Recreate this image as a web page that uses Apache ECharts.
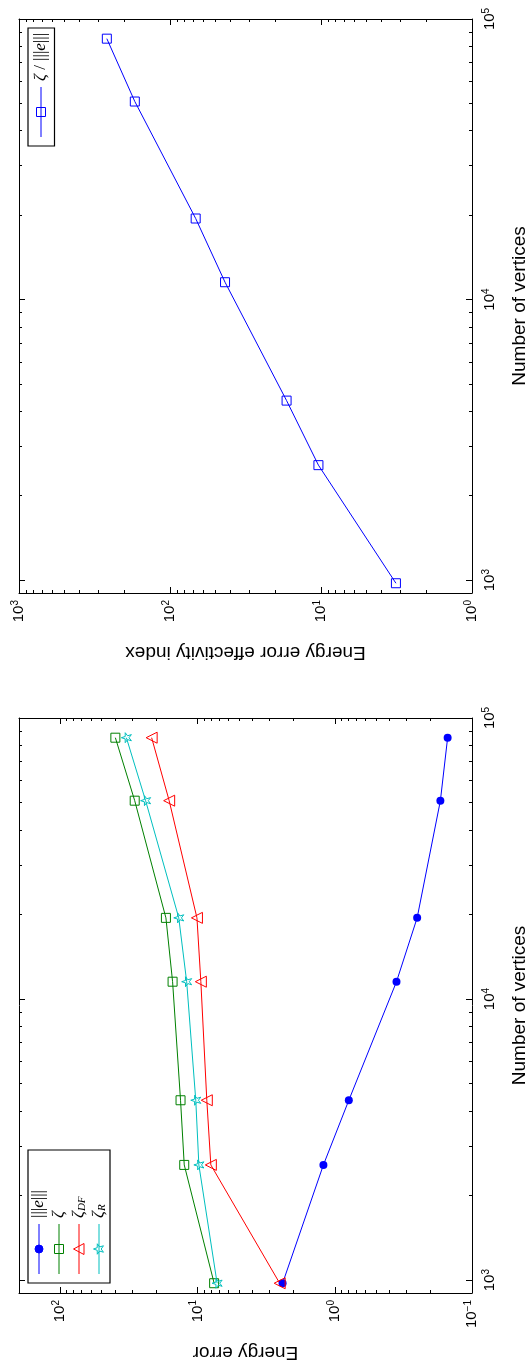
<!DOCTYPE html>
<html><head><meta charset="utf-8">
<script src="https://cdn.jsdelivr.net/npm/echarts@6/dist/echarts.min.js"></script>
<style>html,body{margin:0;padding:0;background:#fff}#c{width:529px;height:1371px}</style>
</head><body><div id="c"></div>
<script>
// ---- data ----
const vertices = [975, 2570, 4365, 11530, 19450, 50800, 85100];
const energyErrorNorm = [2.40, 1.21, 0.79, 0.355, 0.251, 0.170, 0.1505];
const zeta = [7.57, 12.5, 13.3, 15.2, 17.0, 28.7, 39.7];
const zetaDF = [2.52, 8.0, 8.56, 9.46, 10.1, 16.1, 21.6];
const zetaR = [7.20, 9.78, 10.3, 12.0, 13.7, 23.9, 33.0];
const effectivityIndex = [3.19, 10.4, 16.9, 43.2, 67.6, 171, 262];

const vertexRange = [900, 100000];
const effRange = [1, 1000];
const errRange = [0.1, 200];
const vertexTickExps = [3, 4, 5];
const effTickExps = [0, 1, 2, 3];
const errTickExps = [-1, 0, 1, 2];

const xName0 = 'Energy error effectivity index';
const xName1 = 'Energy error';
const yName = 'Number of vertices';

// ---- helpers ----
const L = Math.log10;
const FONT = 'Liberation Sans';
const SERIF = 'Liberation Serif';
function minorTicks(range) {
  const out = [];
  const lo = L(range[0]), hi = L(range[1]);
  for (let d = Math.floor(lo) - 1; d <= Math.ceil(hi); d++) {
    for (let k = 2; k <= 9; k++) {
      const v = L(k) + d;
      if (v > lo + 1e-6 && v < hi - 1e-6) out.push(v);
    }
  }
  return out;
}
function labelFmt(v) {
  const e = Math.round(v);
  return '{a|10}{b|' + (e < 0 ? '\u2212' + (-e) : e) + '}';
}
const labelRich = {
  a: { fontFamily: FONT, fontSize: 15, lineHeight: 18, color: '#000' },
  b: { fontFamily: FONT, fontSize: 10, lineHeight: 6, verticalAlign: 'top', color: '#000' }
};
const nameStyle = { fontFamily: FONT, fontSize: 19, color: '#000' };

function axisGroup(g, range, majorsExp, inverse, mainPos, otherPos, extra, labelExtra) {
  const lo = L(range[0]), hi = L(range[1]);
  const majors = majorsExp.slice();
  const minors = minorTicks(range);
  const base = { type: 'value', gridIndex: g, min: lo, max: hi, inverse: inverse, splitLine: { show: false } };
  const line = { show: true, onZero: false, lineStyle: { color: '#000', width: 1 } };
  const noLine = { show: false, onZero: false };
  const tk = (vals, len) => ({ show: true, inside: true, length: len, customValues: vals, lineStyle: { color: '#000', width: 1 } });
  return [
    Object.assign({}, base, {
      position: mainPos, axisLine: line, axisTick: tk(majors, 6),
      axisLabel: Object.assign({ show: true, customValues: majors, rotate: 90, formatter: labelFmt, rich: labelRich }, labelExtra)
    }, extra),
    Object.assign({}, base, { position: mainPos, axisLine: noLine, axisTick: tk(minors, 3), axisLabel: { show: false } }),
    Object.assign({}, base, { position: otherPos, axisLine: line, axisTick: tk(majors, 6), axisLabel: { show: false } }),
    Object.assign({}, base, { position: otherPos, axisLine: noLine, axisTick: tk(minors, 3), axisLabel: { show: false } })
  ];
}

const xAxes = [].concat(
  axisGroup(0, effRange, effTickExps, true, 'bottom', 'top',
    { name: xName0, nameLocation: 'middle', nameRotate: 180, nameGap: 50, nameTextStyle: nameStyle }, { margin: 7 }),
  axisGroup(1, errRange, errTickExps, true, 'bottom', 'top',
    { name: xName1, nameLocation: 'middle', nameRotate: 180, nameGap: 50, nameTextStyle: nameStyle }, { margin: 7 })
);
const yAxes = [].concat(
  axisGroup(0, vertexRange, vertexTickExps, false, 'right', 'left',
    { name: yName, nameLocation: 'middle', nameRotate: 90, nameGap: 38, nameTextStyle: nameStyle }, { margin: 9 }),
  axisGroup(1, vertexRange, vertexTickExps, false, 'right', 'left',
    { name: yName, nameLocation: 'middle', nameRotate: 90, nameGap: 38, nameTextStyle: nameStyle }, { margin: 9 })
);

const starPath = 'path://M0,-1L0.2245,-0.309L0.951,-0.309L0.363,0.118L0.588,0.809L0,0.382L-0.588,0.809L-0.363,0.118L-0.951,-0.309L-0.2245,-0.309Z';
const COL = { blue: '#0000ff', green: '#008000', red: '#ff0000', cyan: '#00bfbf' };

function mkSeries(name, values, xi, yi, color, symbol, size, rot, filled) {
  return {
    name: name, type: 'line', xAxisIndex: xi, yAxisIndex: yi,
    data: values.map((v, i) => [L(v), L(vertices[i])]),
    symbol: symbol, symbolSize: size, symbolRotate: rot || 0, showSymbol: true, showAllSymbol: true,
    lineStyle: { color: color, width: 1 },
    itemStyle: filled ? { color: color } : { color: 'none', borderColor: color, borderWidth: 1 },
    emphasis: { disabled: true }, z: 3
  };
}

const series = [
  mkSeries('eff', effectivityIndex, 0, 0, COL.blue, 'rect', 9, 0, false),
  mkSeries('err', energyErrorNorm, 4, 4, COL.blue, 'circle', 8, 0, true),
  mkSeries('zeta', zeta, 4, 4, COL.green, 'rect', 9, 0, false),
  mkSeries('zetaDF', zetaDF, 4, 4, COL.red, 'triangle', 11, 90, false),
  mkSeries('zetaR', zetaR, 4, 4, COL.cyan, starPath, 10, 90, false)
];

// ---- legends (rotated like the whole figure) ----
const legRich = {
  i: { fontFamily: SERIF, fontStyle: 'italic', fontSize: 17, lineHeight: 18, fill: '#000' },
  n: { fontFamily: SERIF, fontSize: 17, lineHeight: 18, fill: '#000' },
  s: { fontFamily: SERIF, fontStyle: 'italic', fontSize: 11, lineHeight: 4, verticalAlign: 'bottom', fill: '#000' }
};
function legMarker(kind, cx, cy, color) {
  if (kind === 'circle') return { type: 'circle', shape: { cx: cx, cy: cy, r: 4 }, style: { fill: color, stroke: color } };
  if (kind === 'rect') return { type: 'rect', shape: { x: cx - 4.5, y: cy - 4.5, width: 9, height: 9 }, style: { fill: 'none', stroke: color, lineWidth: 1 } };
  if (kind === 'tri') return { type: 'polygon', shape: { points: [[cx, cy - 5.5], [cx + 5.5, cy + 5], [cx - 5.5, cy + 5]] }, style: { fill: 'none', stroke: color, lineWidth: 1 } };
  const pts = [];
  for (let k = 0; k < 10; k++) {
    const a = -Math.PI / 2 + k * Math.PI / 5, r = k % 2 ? 2.2 : 5.5;
    pts.push([cx + r * Math.cos(a), cy + r * Math.sin(a)]);
  }
  return { type: 'polygon', shape: { points: pts }, style: { fill: 'none', stroke: color, lineWidth: 1 } };
}
function legend(x, y, W, H, items) {
  const ch = [{ type: 'rect', shape: { x: 0, y: 0, width: W, height: H }, style: { fill: '#fff', stroke: '#000', lineWidth: 1.2 } }];
  items.forEach(it => {
    ch.push({ type: 'line', shape: { x1: 9, y1: it.y, x2: 59, y2: it.y }, style: { stroke: it.color, lineWidth: 1 } });
    ch.push(legMarker(it.marker, 34, it.y, it.color));
    ch.push({ type: 'text', x: 65, y: it.y, style: { text: it.text, rich: legRich, verticalAlign: 'middle', align: 'left' } });
  });
  return { type: 'group', x: x, y: y, rotation: Math.PI / 2, z: 100, children: ch };
}

const graphic = [
  legend(28, 146, 118, 26.5, [
    { y: 13, color: COL.blue, marker: 'rect', text: '{i|\u03b6}{n| / |||}{i|e}{n||||}' }
  ]),
  legend(28, 1283, 133, 82, [
    { y: 11, color: COL.blue, marker: 'circle', text: '{n||||}{i|e}{n||||}' },
    { y: 31, color: COL.green, marker: 'rect', text: '{i|\u03b6}' },
    { y: 51, color: COL.red, marker: 'tri', text: '{i|\u03b6}{s|DF}' },
    { y: 71, color: COL.cyan, marker: 'star', text: '{i|\u03b6}{s|R}' }
  ])
];

const chart = echarts.init(document.getElementById('c'), null, { renderer: 'canvas' });
chart.setOption({
  animation: false,
  backgroundColor: '#fff',
  grid: [
    { left: 19, top: 19, width: 453, height: 574, containLabel: false, outerBoundsMode: 'none' },
    { left: 19, top: 718, width: 453, height: 575, containLabel: false, outerBoundsMode: 'none' }
  ],
  xAxis: xAxes,
  yAxis: yAxes,
  series: series,
  graphic: graphic
});
</script></body></html>
